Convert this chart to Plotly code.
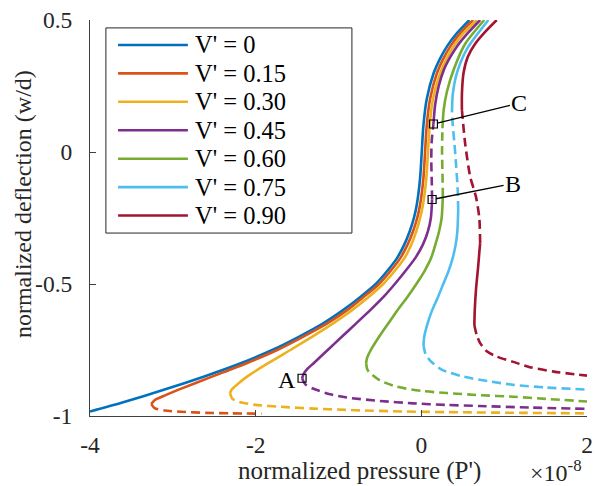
import plotly.graph_objects as go

# ---------------- data (x in units of 1e-8, y = w/d) ----------------
legend_labels = ["V' = 0", "V' = 0.15", "V' = 0.30", "V' = 0.45", "V' = 0.60", "V' = 0.75", "V' = 0.90"]
colors = ["#0072BD", "#D95319", "#EDB120", "#7E2F8E", "#77AC30", "#4DBEEE", "#A2142F"]

x_ticks = [-4, -2, 0, 2]
x_tick_labels = ["-4", "-2", "0", "2"]
y_ticks = [-1, -0.5, 0, 0.5]
y_tick_labels = ["-1", "-0.5", "0", "0.5"]

# V' = 0
v0_solid_x = [-4.0, -3.62, -3.10, -2.62, -2.18, -1.80, -1.48, -1.19, -0.95, -0.74, -0.55, -0.41, -0.29, -0.205, -0.14, -0.09, -0.055, -0.015, 0.005, 0.025, 0.065, 0.15, 0.22, 0.31, 0.43, 0.58]
v0_solid_y = [-0.983, -0.95, -0.90, -0.85, -0.80, -0.75, -0.70, -0.65, -0.60, -0.55, -0.50, -0.45, -0.40, -0.35, -0.30, -0.25, -0.20, -0.10, 0.0, 0.10, 0.20, 0.30, 0.35, 0.40, 0.45, 0.50]

# V' = 0.15
v15_solid_x = [-3.26, -3.22, -3.08, -2.93, -2.52, -2.11, -1.74, -1.43, -1.14, -0.90, -0.70, -0.51, -0.37, -0.25, -0.165, -0.10, -0.05, -0.015, 0.025, 0.045, 0.065, 0.105, 0.19, 0.26, 0.35, 0.47, 0.625]
v15_solid_y = [-0.955, -0.94, -0.92, -0.90, -0.85, -0.80, -0.75, -0.70, -0.65, -0.60, -0.55, -0.50, -0.45, -0.40, -0.35, -0.30, -0.25, -0.20, -0.10, 0.0, 0.10, 0.20, 0.30, 0.35, 0.40, 0.45, 0.50]
v15_dash_x = [-3.26, -3.22, -3.1, -2.9, -2.6, -2.3, -1.93]
v15_dash_y = [-0.955, -0.970, -0.979, -0.984, -0.988, -0.990, -0.991]

# V' = 0.30
v30_solid_x = [-2.31, -2.29, -2.22, -2.10, -1.85, -1.58, -1.32, -1.07, -0.84, -0.64, -0.46, -0.32, -0.20, -0.12, -0.06, -0.015, 0.02, 0.06, 0.08, 0.10, 0.14, 0.23, 0.30, 0.39, 0.51, 0.67]
v30_solid_y = [-0.913, -0.90, -0.88, -0.85, -0.80, -0.75, -0.70, -0.65, -0.60, -0.55, -0.50, -0.45, -0.40, -0.35, -0.30, -0.25, -0.20, -0.10, 0.0, 0.10, 0.20, 0.30, 0.35, 0.40, 0.45, 0.50]
v30_dash_x = [-2.31, -2.28, -2.2, -2.0, -1.7, -1.3, -0.8, -0.2, 0.5, 1.2, 2.0]
v30_dash_y = [-0.913, -0.935, -0.947, -0.958, -0.965, -0.972, -0.978, -0.983, -0.986, -0.988, -0.99]

# V' = 0.45
v45_low_x = [-1.44, -1.42, -1.37, -1.30, -1.13, -0.96, -0.79, -0.62, -0.46, -0.32, -0.19, -0.07, 0.02, 0.08, 0.115, 0.13]
v45_low_y = [-0.857, -0.84, -0.82, -0.80, -0.75, -0.70, -0.65, -0.60, -0.55, -0.50, -0.45, -0.40, -0.35, -0.30, -0.25, -0.18]
v45_mid_x = [0.13, 0.125, 0.12, 0.125, 0.146]
v45_mid_y = [-0.18, -0.10, -0.03, 0.04, 0.106]
v45_up_x = [0.146, 0.167, 0.21, 0.27, 0.35, 0.43, 0.56, 0.71]
v45_up_y = [0.106, 0.18, 0.25, 0.31, 0.36, 0.40, 0.45, 0.5]
v45_dash_x = [-1.44, -1.40, -1.31, -1.1, -0.9, -0.5, -0.1, 0.3, 0.7, 1.3, 2.0]
v45_dash_y = [-0.857, -0.88, -0.896, -0.918, -0.930, -0.943, -0.952, -0.958, -0.962, -0.968, -0.973]

# V' = 0.60
v60_low_x = [-0.667, -0.655, -0.61, -0.51, -0.40, -0.29, -0.17, -0.06, 0.04, 0.12, 0.17, 0.215, 0.245, 0.26]
v60_low_y = [-0.80, -0.78, -0.75, -0.70, -0.65, -0.60, -0.55, -0.50, -0.45, -0.40, -0.35, -0.30, -0.25, -0.17]
v60_mid_x = [0.26, 0.255, 0.25, 0.252, 0.255]
v60_mid_y = [-0.17, -0.08, 0.0, 0.05, 0.09]
v60_up_x = [0.255, 0.27, 0.31, 0.40, 0.53, 0.76]
v60_up_y = [0.09, 0.16, 0.23, 0.32, 0.41, 0.5]
v60_dash_x = [-0.667, -0.65, -0.618, -0.5, -0.296, 0.0, 0.31, 0.7, 1.11, 1.5, 2.0]
v60_dash_y = [-0.80, -0.825, -0.837, -0.865, -0.889, -0.905, -0.913, -0.921, -0.927, -0.935, -0.945]

# V' = 0.75
v75_low_x = [0.026, 0.035, 0.075, 0.13, 0.20, 0.265, 0.33, 0.38, 0.415, 0.435, 0.445]
v75_low_y = [-0.731, -0.70, -0.65, -0.60, -0.55, -0.50, -0.45, -0.40, -0.35, -0.30, -0.22]
v75_mid_x = [0.445, 0.44, 0.42, 0.40, 0.38, 0.37]
v75_mid_y = [-0.22, -0.15, -0.05, 0.03, 0.10, 0.15]
v75_up_x = [0.37, 0.38, 0.43, 0.55, 0.81]
v75_up_y = [0.15, 0.22, 0.30, 0.39, 0.5]
v75_dash_x = [0.026, 0.05, 0.106, 0.25, 0.51, 0.8, 1.11, 1.5, 2.0]
v75_dash_y = [-0.731, -0.765, -0.79, -0.825, -0.851, -0.868, -0.882, -0.892, -0.90]

# V' = 0.90
v90_low_x = [0.64, 0.645, 0.66, 0.686, 0.70, 0.71]
v90_low_y = [-0.655, -0.60, -0.52, -0.434, -0.38, -0.345]
v90_mid_x = [0.71, 0.70, 0.66, 0.59, 0.53, 0.49]
v90_mid_y = [-0.345, -0.25, -0.17, -0.094, 0.03, 0.159]
v90_up_x = [0.49, 0.49, 0.51, 0.56, 0.65, 0.77, 0.91]
v90_up_y = [0.159, 0.22, 0.30, 0.36, 0.41, 0.455, 0.5]
v90_dash_x = [0.64, 0.67, 0.71, 0.79, 0.91, 1.11, 1.31, 1.6, 2.0]
v90_dash_y = [-0.655, -0.695, -0.724, -0.755, -0.775, -0.795, -0.815, -0.832, -0.847]

# labelled points
point_labels = ["A", "B", "C"]
point_x = [-1.44, 0.13, 0.146]
point_y = [-0.857, -0.18, 0.106]

# ---------------- assemble ----------------
segments = [
    [(v0_solid_x, v0_solid_y, "solid")],
    [(v15_solid_x, v15_solid_y, "solid"), (v15_dash_x, v15_dash_y, "dash")],
    [(v30_solid_x, v30_solid_y, "solid"), (v30_dash_x, v30_dash_y, "dash")],
    [(v45_low_x, v45_low_y, "solid"), (v45_mid_x, v45_mid_y, "dash"), (v45_up_x, v45_up_y, "solid"), (v45_dash_x, v45_dash_y, "dash")],
    [(v60_low_x, v60_low_y, "solid"), (v60_mid_x, v60_mid_y, "dash"), (v60_up_x, v60_up_y, "solid"), (v60_dash_x, v60_dash_y, "dash")],
    [(v75_low_x, v75_low_y, "solid"), (v75_mid_x, v75_mid_y, "dash"), (v75_up_x, v75_up_y, "solid"), (v75_dash_x, v75_dash_y, "dash")],
    [(v90_low_x, v90_low_y, "solid"), (v90_mid_x, v90_mid_y, "dash"), (v90_up_x, v90_up_y, "solid"), (v90_dash_x, v90_dash_y, "dash")],
]

FONT = "Liberation Serif"
AXC = "#404040"
TXT = "#262626"

fig = go.Figure()
for i, segs in enumerate(segments):
    for xs, ys, style in segs:
        fig.add_trace(go.Scatter(
            x=xs, y=ys, mode="lines", name=legend_labels[i],
            legendgroup=legend_labels[i], showlegend=False, hoverinfo="skip",
            line=dict(color=colors[i], width=2.6, shape="spline", smoothing=0.7,
                      dash="solid" if style == "solid" else "9px,5px"),
        ))

fig.add_trace(go.Scatter(
    x=point_x, y=point_y, mode="markers", showlegend=False, hoverinfo="skip",
    marker=dict(symbol="square-open", size=8, color="black", line=dict(width=1.2, color="black")),
))

# ---------------- manual legend (MATLAB style) ----------------
lg_x0, lg_x1, lg_y0, lg_y1 = 0.032, 0.527, 0.462, 0.98
row_top, row_step = 0.937, 0.0718
shapes = [dict(type="rect", xref="paper", yref="paper", x0=lg_x0, x1=lg_x1, y0=lg_y0, y1=lg_y1,
               line=dict(color="#262626", width=1), fillcolor="white", layer="above")]
annotations = []
for i, lab in enumerate(legend_labels):
    yy = row_top - i * row_step
    shapes.append(dict(type="line", xref="paper", yref="paper", x0=0.0565, x1=0.197, y0=yy, y1=yy,
                       line=dict(color=colors[i], width=2.6), layer="above"))
    annotations.append(dict(xref="paper", yref="paper", x=0.208, y=yy, text=lab, showarrow=False,
                            xanchor="left", yanchor="middle", font=dict(family=FONT, size=24.5, color="#000")))

# point labels
annotations.append(dict(x=point_x[0], y=point_y[0], text=point_labels[0], showarrow=False,
                        xanchor="right", yanchor="middle", xshift=-4, yshift=-2,
                        font=dict(family=FONT, size=24, color="#000")))
annotations.append(dict(x=point_x[1], y=point_y[1], text=point_labels[1], showarrow=True,
                        arrowhead=0, arrowwidth=1.3, arrowcolor="black", ax=81, ay=-16, standoff=4,
                        font=dict(family=FONT, size=24, color="#000")))
annotations.append(dict(x=point_x[2], y=point_y[2], text=point_labels[2], showarrow=True,
                        arrowhead=0, arrowwidth=1.3, arrowcolor="black", ax=86, ay=-21, standoff=4,
                        font=dict(family=FONT, size=24, color="#000")))

# axis titles and exponent
annotations.append(dict(xref="paper", yref="paper", x=0.543, y=-0.14, text="normalized pressure (P')",
                        showarrow=False, xanchor="center", yanchor="middle",
                        font=dict(family=FONT, size=25, color=TXT)))
annotations.append(dict(xref="paper", yref="paper", x=-0.135, y=0.535, text="normalized deflection (w/d)",
                        showarrow=False, xanchor="center", yanchor="middle", textangle=-90,
                        font=dict(family=FONT, size=24, color=TXT)))
annotations.append(dict(xref="paper", yref="paper", x=0.881, y=-0.14, text="×10<sup>-8</sup>",
                        showarrow=False, xanchor="left", yanchor="middle",
                        font=dict(family=FONT, size=24, color=TXT)))

fig.update_layout(
    width=595, height=486,
    margin=dict(l=90, r=8, t=20, b=70),
    paper_bgcolor="white", plot_bgcolor="white",
    font=dict(family=FONT, color=TXT),
    showlegend=False,
    shapes=shapes, annotations=annotations,
    xaxis=dict(range=[-4, 2], tickvals=x_ticks, ticktext=x_tick_labels, automargin=False,
               ticks="inside", ticklen=6, tickcolor=AXC, showline=True, linecolor=AXC, linewidth=1,
               showgrid=False, zeroline=False, mirror=False,
               tickfont=dict(family=FONT, size=23.5, color=TXT), ticklabelstandoff=8),
    yaxis=dict(range=[-1, 0.5], tickvals=y_ticks, ticktext=y_tick_labels, automargin=False,
               ticks="inside", ticklen=6, tickcolor=AXC, showline=True, linecolor=AXC, linewidth=1,
               showgrid=False, zeroline=False, mirror=False,
               tickfont=dict(family=FONT, size=23.5, color=TXT), ticklabelstandoff=12),
)

fig.write_html(
    "out.html",
    config={"displayModeBar": False},
    post_script="document.body.style.margin='0';document.body.style.padding='0';"
                "document.documentElement.style.overflow='hidden';",
)
